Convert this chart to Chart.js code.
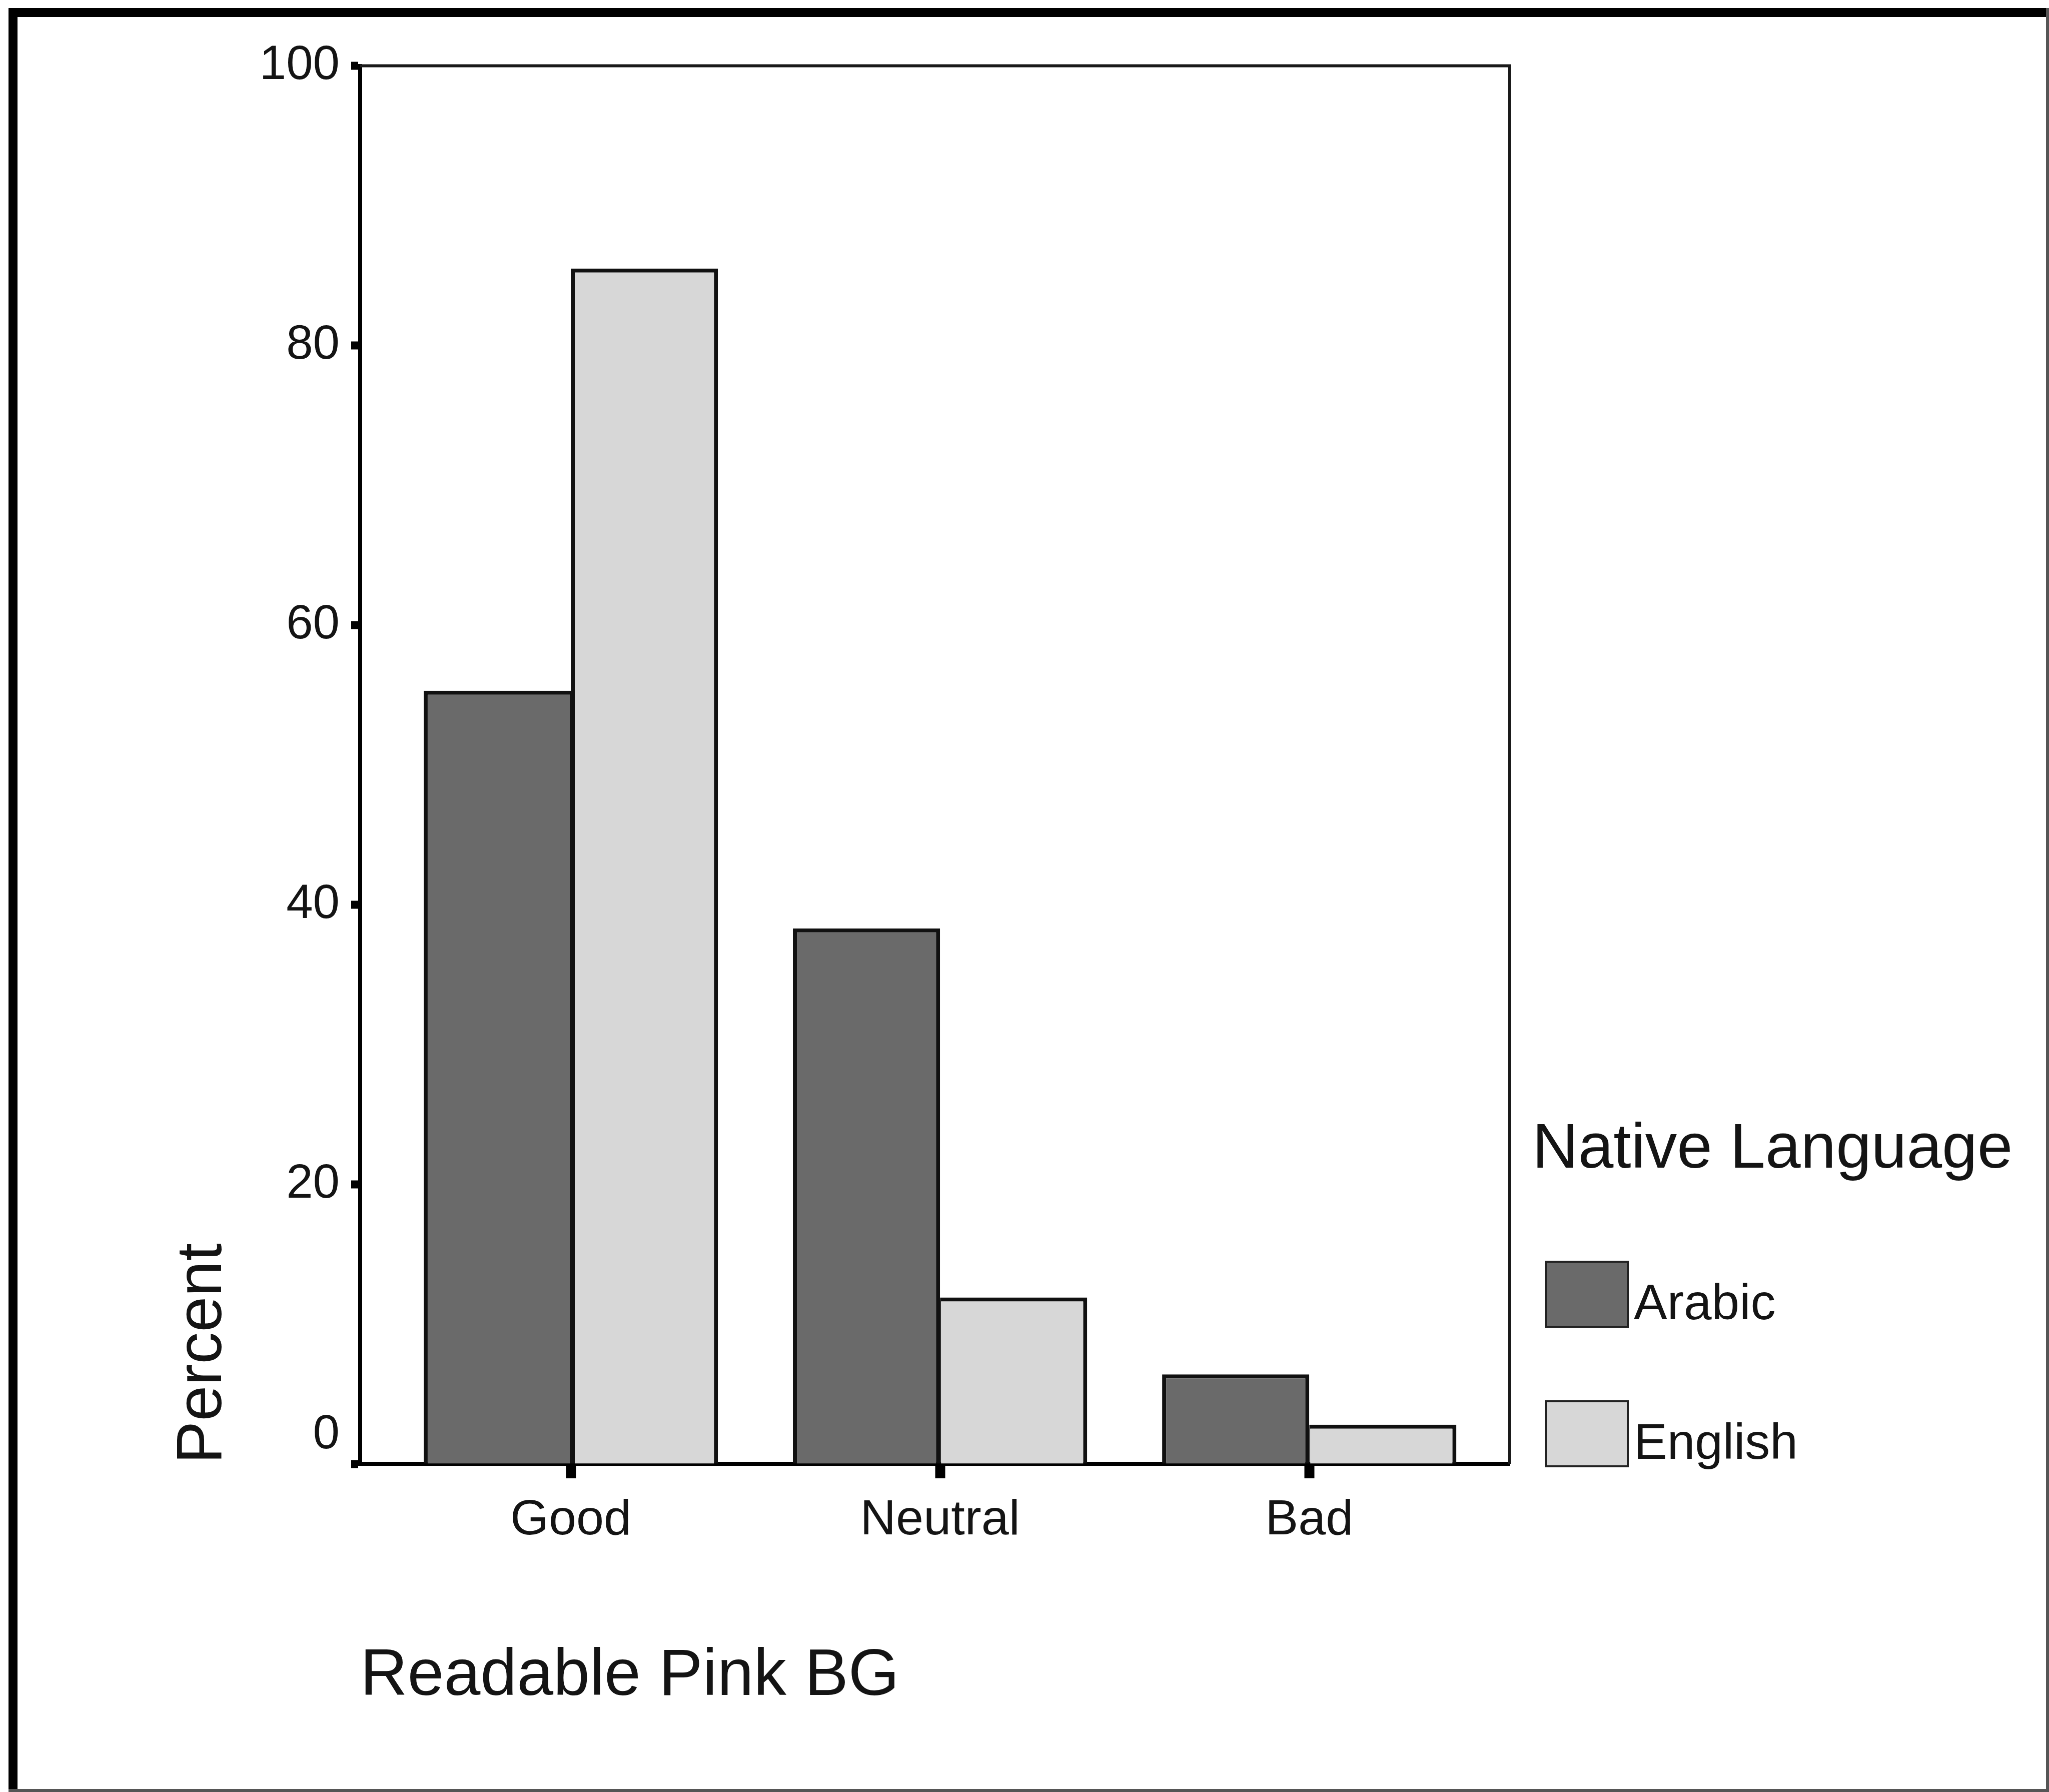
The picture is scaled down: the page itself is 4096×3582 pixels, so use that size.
<!DOCTYPE html>
<html>
<head>
<meta charset="utf-8">
<script src="https://cdn.jsdelivr.net/npm/chart.js@4.4.1/dist/chart.umd.min.js"></script>
<style>
  html, body { margin: 0; padding: 0; background: #ffffff; }
  canvas { display: block; }
</style>
</head>
<body>
<canvas id="chart" width="4096" height="3582"></canvas>
<script>
// ---- data ----
const categories = ['Good', 'Neutral', 'Bad'];
const seriesNames = ['Arabic', 'English'];
const arabicPercent = [55.3, 38.3, 6.4];
const englishPercent = [85.5, 11.9, 2.8];
const yTickValues = [0, 20, 40, 60, 80, 100];
const xAxisTitle = 'Readable Pink BG';
const yAxisTitle = 'Percent';
const legendTitle = 'Native Language';

// ---- styling ----
const FONT = "'Liberation Sans', Arial, sans-serif";
const INK = '#141414';
const ARABIC_FILL = '#6a6a6a';
const ENGLISH_FILL = '#d7d7d7';
const BAR_EDGE = 8;
const BAR_SHARED = 2;

// Bars of one category touch; give the shared edge to the taller bar so the
// dividing line stays a single stroke.
function barBorder(ctx) {
  const d = ctx.datasetIndex;
  const i = ctx.dataIndex;
  if (i === undefined || d === undefined) return BAR_EDGE;
  const sets = ctx.chart.data.datasets;
  const own = sets[d].data[i].y;
  const other = sets[1 - d].data[i].y;
  const inner = own >= other ? BAR_EDGE : BAR_SHARED;
  return d === 0
    ? { top: BAR_EDGE, left: BAR_EDGE, right: inner, bottom: 0 }
    : { top: BAR_EDGE, left: inner, right: BAR_EDGE, bottom: 0 };
}

const toPoints = values => values.map((v, i) => ({ x: i, y: v }));

// The zero label sits raised above the baseline corner: an empty second
// line lifts it by half a line.
const yTickLabel = value => (value === 0 ? [String(value), ''] : String(value));

// Page frame, plot box top/right edges and the side legend.
const framePlugin = {
  id: 'frame',
  beforeDraw(chart) {
    const { ctx, width, height } = chart;
    ctx.save();
    ctx.fillStyle = '#ffffff';
    ctx.fillRect(0, 0, width, height);
    ctx.fillStyle = '#000000';
    ctx.fillRect(17, 16, 18, height - 16);
    ctx.fillRect(17, 16, width - 17, 18);
    ctx.fillStyle = '#555555';
    ctx.fillRect(width - 6, 16, 6, height - 16);
    ctx.fillRect(17, height - 6, width - 17, 6);
    ctx.restore();
  },
  afterDatasetsDraw(chart) {
    const { ctx, chartArea: a } = chart;
    ctx.save();
    ctx.strokeStyle = '#1a1a1a';
    ctx.lineWidth = 6;
    ctx.beginPath();
    ctx.moveTo(a.left, a.top);
    ctx.lineTo(a.right, a.top);
    ctx.lineTo(a.right, a.bottom);
    ctx.stroke();
    ctx.restore();
  }
};

const LEGEND = { titleX: 3063, titleY: 2334, boxX: 3088, firstBoxTop: 2520, rowGap: 279, boxW: 168, boxH: 134 };

const legendPlugin = {
  id: 'sideLegend',
  afterDraw(chart) {
    const { ctx } = chart;
    ctx.save();
    ctx.textAlign = 'left';
    ctx.textBaseline = 'alphabetic';
    ctx.fillStyle = INK;
    ctx.font = `127px ${FONT}`;
    ctx.fillText(legendTitle, LEGEND.titleX, LEGEND.titleY);
    chart.data.datasets.forEach((ds, i) => {
      const y = LEGEND.firstBoxTop + i * LEGEND.rowGap;
      ctx.fillStyle = ds.backgroundColor;
      ctx.fillRect(LEGEND.boxX, y, LEGEND.boxW, LEGEND.boxH);
      ctx.lineWidth = 4;
      ctx.strokeStyle = '#222222';
      ctx.strokeRect(LEGEND.boxX + 2, y + 2, LEGEND.boxW - 4, LEGEND.boxH - 4);
      ctx.fillStyle = INK;
      ctx.font = `100px ${FONT}`;
      ctx.fillText(ds.label, LEGEND.boxX + LEGEND.boxW + 10, y + 117);
    });
    ctx.restore();
  }
};

new Chart(document.getElementById('chart'), {
  type: 'bar',
  data: {
    datasets: [
      { label: seriesNames[0], data: toPoints(arabicPercent), backgroundColor: ARABIC_FILL },
      { label: seriesNames[1], data: toPoints(englishPercent), backgroundColor: ENGLISH_FILL }
    ]
  },
  options: {
    responsive: false,
    animation: false,
    devicePixelRatio: 1,
    layout: { padding: { left: 0, top: 131.5, right: 1078, bottom: 0 } },
    datasets: {
      bar: {
        categoryPercentage: 0.797,
        barPercentage: 1.0,
        borderColor: '#111111',
        borderWidth: barBorder,
        borderSkipped: false
      }
    },
    plugins: {
      legend: { display: false },
      tooltip: { enabled: false }
    },
    scales: {
      x: {
        type: 'linear',
        position: 'bottom',
        offset: false,
        min: -0.5705,
        max: 2.543,
        afterBuildTicks: scale => { scale.ticks = categories.map((_, i) => ({ value: i })); },
        afterFit: scale => { scale.height = 656; },
        ticks: {
          callback: value => categories[value] ?? '',
          font: { family: FONT, size: 99 },
          color: INK,
          padding: 25,
          maxRotation: 0,
          autoSkip: false
        },
        grid: {
          offset: false,
          drawOnChartArea: false,
          drawTicks: true,
          tickLength: 29,
          tickWidth: 20,
          tickColor: '#000000'
        },
        border: { display: true, color: '#000000', width: 8 },
        title: {
          display: true,
          text: xAxisTitle,
          align: 'start',
          color: INK,
          font: { family: FONT, size: 131 },
          padding: { top: 0, bottom: 152 }
        }
      },
      y: {
        type: 'linear',
        position: 'left',
        min: yTickValues[0],
        max: yTickValues[yTickValues.length - 1],
        afterBuildTicks: scale => { scale.ticks = yTickValues.map(v => ({ value: v })); },
        afterFit: scale => { scale.width = 720; },
        ticks: {
          callback: yTickLabel,
          font: { family: FONT, size: 96 },
          color: INK,
          padding: 23
        },
        grid: {
          drawOnChartArea: false,
          drawTicks: true,
          tickLength: 18,
          tickWidth: 16,
          tickColor: '#000000'
        },
        border: { display: true, color: '#000000', width: 8 },
        title: {
          display: true,
          text: yAxisTitle,
          align: 'start',
          color: INK,
          font: { family: FONT, size: 128 },
          padding: { top: 330, bottom: 0 }
        }
      }
    }
  },
  plugins: [framePlugin, legendPlugin]
});
</script>
</body>
</html>
